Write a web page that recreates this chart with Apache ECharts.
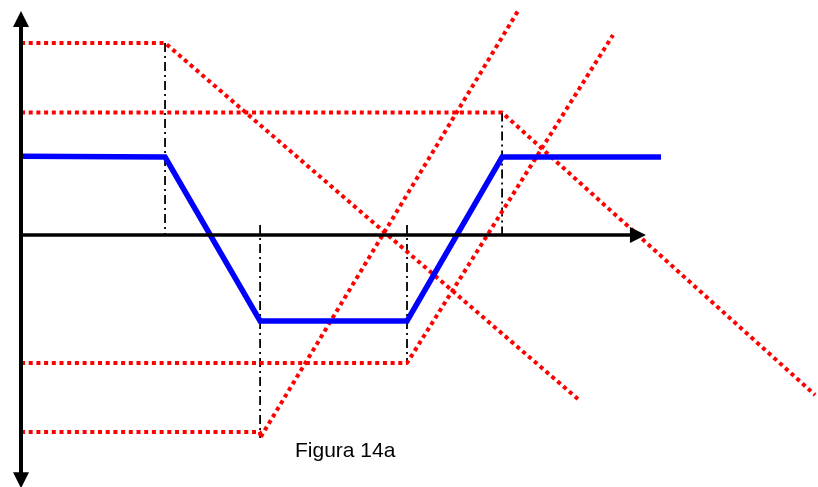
<!DOCTYPE html>
<html>
<head>
<meta charset="utf-8">
<script src="https://cdn.jsdelivr.net/npm/echarts@6/dist/echarts.min.js"></script>
<style>
  html, body { margin: 0; padding: 0; background: #fff; }
  #chart { width: 818px; height: 487px; }
</style>
</head>
<body>
<div id="chart"></div>
<script>
// time / value coordinates (axis origin = 0,0)
var blueT = [0, 3, 4.98, 8.04, 10.02, 13.33];
var blueV = [1.97, 1.95, -2.15, -2.15, 1.95, 1.95];

var redAT = [0, 3, 11.6];
var redAV = [4.8, 4.8, -4.1];
var redBT = [0, 10.02, 16.54];
var redBV = [3.06, 3.06, -4.0];
var redCT = [0, 8.04, 12.33];
var redCV = [-3.2, -3.2, 5.0];
var redDT = [0, 4.98, 4.98, 10.35];
var redDV = [-4.925, -4.925, -5.075, 5.6];

var guideT = [3, 4.98, 8.04, 10.02];
var guideFrom = [4.8, 0.25, 0.25, 3.06];
var guideTo = [0, -5.075, -3.2, 0];

var caption = 'Figura 14a';

function pts(ts, vs) {
    return ts.map(function (t, i) { return [t, vs[i]]; });
}

var chart = echarts.init(document.getElementById('chart'));

var series = [];

// dash-dot guides
guideT.forEach(function (t, i) {
    series.push({
        type: 'line',
        data: [[t, guideFrom[i]], [t, guideTo[i]]],
        symbol: 'none',
        lineStyle: { color: '#000', width: 1.8, type: [9, 4, 2, 4] },
        z: 1
    });
});

// red dotted lines
[[redAT, redAV], [redBT, redBV], [redCT, redCV], [redDT, redDV]].forEach(function (r) {
    series.push({
        type: 'line',
        data: pts(r[0], r[1]),
        symbol: 'none',
        lineStyle: { color: '#ff0000', width: 4, type: [4, 3.7] },
        z: 3
    });
});

// axes with arrows
series.push({
    type: 'line',
    data: [],
    symbol: 'none',
    markLine: {
        silent: true,
        symbol: ['triangle', 'triangle'],
        symbolSize: [16, 16],
        label: { show: false },
        lineStyle: { color: '#000', width: 4, type: 'solid' },
        data: [
            [{ coord: [0, 5.4] }, { coord: [0, -6.13] }]
        ]
    },
    z: 2
});
series.push({
    type: 'line',
    data: [],
    symbol: 'none',
    markLine: {
        silent: true,
        symbol: ['none', 'triangle'],
        symbolSize: [16, 16],
        label: { show: false },
        lineStyle: { color: '#000', width: 3.5, type: 'solid' },
        data: [
            [{ coord: [0, 0] }, { coord: [12.85, 0] }]
        ]
    },
    z: 2
});

// blue signal
series.push({
    type: 'line',
    data: pts(blueT, blueV),
    symbol: 'none',
    lineStyle: { color: '#0000ff', width: 5.5, join: 'miter' },
    z: 4
});

var option = {
    animation: false,
    title: {
        text: caption,
        left: 290,
        top: 436,
        textStyle: {
            fontFamily: 'Liberation Sans',
            fontSize: 21,
            fontWeight: 'normal',
            color: '#000'
        }
    },
    grid: { left: 21, right: 0, top: 0, bottom: 0 },
    xAxis: {
        type: 'value',
        min: 0,
        max: 16.6,
        show: false
    },
    yAxis: {
        type: 'value',
        min: -6.3,
        max: 5.875,
        show: false
    },
    series: series
};

chart.setOption(option);
</script>
</body>
</html>
